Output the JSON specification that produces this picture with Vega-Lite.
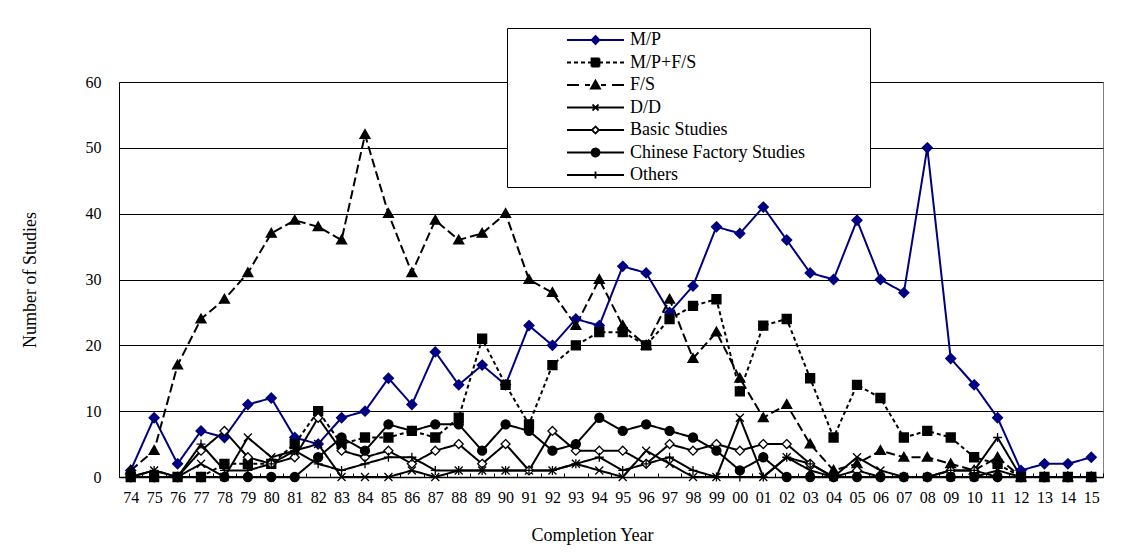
{
"$schema": "https://vega.github.io/schema/vega-lite/v6.json",
"width": 984, "height": 395,
"autosize": "none",
"padding": {"left": 119, "top": 82, "right": 23, "bottom": 78},
"background": "white",
"config": {
 "font": "Liberation Serif",
 "view": {"stroke": "#808080", "strokeWidth": 1},
 "axis": {"labelFont": "Liberation Serif", "titleFont": "Liberation Serif", "labelColor": "black", "titleColor": "black", "titleFontWeight": "normal", "labelFontSize": 16, "titleFontSize": 18}
},
"data": {"values": [
{"year":"74","series":"M/P","value":1},{"year":"75","series":"M/P","value":9},{"year":"76","series":"M/P","value":2},{"year":"77","series":"M/P","value":7},{"year":"78","series":"M/P","value":6},{"year":"79","series":"M/P","value":11},{"year":"80","series":"M/P","value":12},{"year":"81","series":"M/P","value":6},{"year":"82","series":"M/P","value":5},{"year":"83","series":"M/P","value":9},{"year":"84","series":"M/P","value":10},{"year":"85","series":"M/P","value":15},{"year":"86","series":"M/P","value":11},{"year":"87","series":"M/P","value":19},{"year":"88","series":"M/P","value":14},{"year":"89","series":"M/P","value":17},{"year":"90","series":"M/P","value":14},{"year":"91","series":"M/P","value":23},{"year":"92","series":"M/P","value":20},{"year":"93","series":"M/P","value":24},{"year":"94","series":"M/P","value":23},{"year":"95","series":"M/P","value":32},{"year":"96","series":"M/P","value":31},{"year":"97","series":"M/P","value":25},{"year":"98","series":"M/P","value":29},{"year":"99","series":"M/P","value":38},{"year":"00","series":"M/P","value":37},{"year":"01","series":"M/P","value":41},{"year":"02","series":"M/P","value":36},{"year":"03","series":"M/P","value":31},{"year":"04","series":"M/P","value":30},{"year":"05","series":"M/P","value":39},{"year":"06","series":"M/P","value":30},{"year":"07","series":"M/P","value":28},{"year":"08","series":"M/P","value":50},{"year":"09","series":"M/P","value":18},{"year":"10","series":"M/P","value":14},{"year":"11","series":"M/P","value":9},{"year":"12","series":"M/P","value":1},{"year":"13","series":"M/P","value":2},{"year":"14","series":"M/P","value":2},{"year":"15","series":"M/P","value":3},
{"year":"74","series":"M/P+F/S","value":0},{"year":"75","series":"M/P+F/S","value":0},{"year":"76","series":"M/P+F/S","value":0},{"year":"77","series":"M/P+F/S","value":0},{"year":"78","series":"M/P+F/S","value":2},{"year":"79","series":"M/P+F/S","value":2},{"year":"80","series":"M/P+F/S","value":2},{"year":"81","series":"M/P+F/S","value":5},{"year":"82","series":"M/P+F/S","value":10},{"year":"83","series":"M/P+F/S","value":5},{"year":"84","series":"M/P+F/S","value":6},{"year":"85","series":"M/P+F/S","value":6},{"year":"86","series":"M/P+F/S","value":7},{"year":"87","series":"M/P+F/S","value":6},{"year":"88","series":"M/P+F/S","value":9},{"year":"89","series":"M/P+F/S","value":21},{"year":"90","series":"M/P+F/S","value":14},{"year":"91","series":"M/P+F/S","value":8},{"year":"92","series":"M/P+F/S","value":17},{"year":"93","series":"M/P+F/S","value":20},{"year":"94","series":"M/P+F/S","value":22},{"year":"95","series":"M/P+F/S","value":22},{"year":"96","series":"M/P+F/S","value":20},{"year":"97","series":"M/P+F/S","value":24},{"year":"98","series":"M/P+F/S","value":26},{"year":"99","series":"M/P+F/S","value":27},{"year":"00","series":"M/P+F/S","value":13},{"year":"01","series":"M/P+F/S","value":23},{"year":"02","series":"M/P+F/S","value":24},{"year":"03","series":"M/P+F/S","value":15},{"year":"04","series":"M/P+F/S","value":6},{"year":"05","series":"M/P+F/S","value":14},{"year":"06","series":"M/P+F/S","value":12},{"year":"07","series":"M/P+F/S","value":6},{"year":"08","series":"M/P+F/S","value":7},{"year":"09","series":"M/P+F/S","value":6},{"year":"10","series":"M/P+F/S","value":3},{"year":"11","series":"M/P+F/S","value":2},{"year":"12","series":"M/P+F/S","value":0},{"year":"13","series":"M/P+F/S","value":0},{"year":"14","series":"M/P+F/S","value":0},{"year":"15","series":"M/P+F/S","value":0},
{"year":"74","series":"F/S","value":1},{"year":"75","series":"F/S","value":4},{"year":"76","series":"F/S","value":17},{"year":"77","series":"F/S","value":24},{"year":"78","series":"F/S","value":27},{"year":"79","series":"F/S","value":31},{"year":"80","series":"F/S","value":37},{"year":"81","series":"F/S","value":39},{"year":"82","series":"F/S","value":38},{"year":"83","series":"F/S","value":36},{"year":"84","series":"F/S","value":52},{"year":"85","series":"F/S","value":40},{"year":"86","series":"F/S","value":31},{"year":"87","series":"F/S","value":39},{"year":"88","series":"F/S","value":36},{"year":"89","series":"F/S","value":37},{"year":"90","series":"F/S","value":40},{"year":"91","series":"F/S","value":30},{"year":"92","series":"F/S","value":28},{"year":"93","series":"F/S","value":23},{"year":"94","series":"F/S","value":30},{"year":"95","series":"F/S","value":23},{"year":"96","series":"F/S","value":20},{"year":"97","series":"F/S","value":27},{"year":"98","series":"F/S","value":18},{"year":"99","series":"F/S","value":22},{"year":"00","series":"F/S","value":15},{"year":"01","series":"F/S","value":9},{"year":"02","series":"F/S","value":11},{"year":"03","series":"F/S","value":5},{"year":"04","series":"F/S","value":1},{"year":"05","series":"F/S","value":2},{"year":"06","series":"F/S","value":4},{"year":"07","series":"F/S","value":3},{"year":"08","series":"F/S","value":3},{"year":"09","series":"F/S","value":2},{"year":"10","series":"F/S","value":1},{"year":"11","series":"F/S","value":3},{"year":"12","series":"F/S","value":0},{"year":"13","series":"F/S","value":0},{"year":"14","series":"F/S","value":0},{"year":"15","series":"F/S","value":0},
{"year":"74","series":"D/D","value":0},{"year":"75","series":"D/D","value":1},{"year":"76","series":"D/D","value":0},{"year":"77","series":"D/D","value":2},{"year":"78","series":"D/D","value":0},{"year":"79","series":"D/D","value":6},{"year":"80","series":"D/D","value":3},{"year":"81","series":"D/D","value":4},{"year":"82","series":"D/D","value":5},{"year":"83","series":"D/D","value":0},{"year":"84","series":"D/D","value":0},{"year":"85","series":"D/D","value":0},{"year":"86","series":"D/D","value":1},{"year":"87","series":"D/D","value":0},{"year":"88","series":"D/D","value":1},{"year":"89","series":"D/D","value":1},{"year":"90","series":"D/D","value":1},{"year":"91","series":"D/D","value":1},{"year":"92","series":"D/D","value":1},{"year":"93","series":"D/D","value":2},{"year":"94","series":"D/D","value":1},{"year":"95","series":"D/D","value":0},{"year":"96","series":"D/D","value":4},{"year":"97","series":"D/D","value":2},{"year":"98","series":"D/D","value":0},{"year":"99","series":"D/D","value":0},{"year":"00","series":"D/D","value":9},{"year":"01","series":"D/D","value":0},{"year":"02","series":"D/D","value":3},{"year":"03","series":"D/D","value":1},{"year":"04","series":"D/D","value":0},{"year":"05","series":"D/D","value":3},{"year":"06","series":"D/D","value":1},{"year":"07","series":"D/D","value":0},{"year":"08","series":"D/D","value":0},{"year":"09","series":"D/D","value":0},{"year":"10","series":"D/D","value":0},{"year":"11","series":"D/D","value":1},{"year":"12","series":"D/D","value":0},{"year":"13","series":"D/D","value":0},{"year":"14","series":"D/D","value":0},{"year":"15","series":"D/D","value":0},
{"year":"74","series":"Basic Studies","value":0},{"year":"75","series":"Basic Studies","value":0},{"year":"76","series":"Basic Studies","value":0},{"year":"77","series":"Basic Studies","value":4},{"year":"78","series":"Basic Studies","value":7},{"year":"79","series":"Basic Studies","value":3},{"year":"80","series":"Basic Studies","value":2},{"year":"81","series":"Basic Studies","value":3},{"year":"82","series":"Basic Studies","value":9},{"year":"83","series":"Basic Studies","value":4},{"year":"84","series":"Basic Studies","value":3},{"year":"85","series":"Basic Studies","value":4},{"year":"86","series":"Basic Studies","value":2},{"year":"87","series":"Basic Studies","value":4},{"year":"88","series":"Basic Studies","value":5},{"year":"89","series":"Basic Studies","value":2},{"year":"90","series":"Basic Studies","value":5},{"year":"91","series":"Basic Studies","value":1},{"year":"92","series":"Basic Studies","value":7},{"year":"93","series":"Basic Studies","value":4},{"year":"94","series":"Basic Studies","value":4},{"year":"95","series":"Basic Studies","value":4},{"year":"96","series":"Basic Studies","value":2},{"year":"97","series":"Basic Studies","value":5},{"year":"98","series":"Basic Studies","value":4},{"year":"99","series":"Basic Studies","value":5},{"year":"00","series":"Basic Studies","value":4},{"year":"01","series":"Basic Studies","value":5},{"year":"02","series":"Basic Studies","value":5},{"year":"03","series":"Basic Studies","value":2},{"year":"04","series":"Basic Studies","value":0},{"year":"05","series":"Basic Studies","value":1},{"year":"06","series":"Basic Studies","value":0},{"year":"07","series":"Basic Studies","value":0},{"year":"08","series":"Basic Studies","value":0},{"year":"09","series":"Basic Studies","value":1},{"year":"10","series":"Basic Studies","value":1},{"year":"11","series":"Basic Studies","value":0},{"year":"12","series":"Basic Studies","value":0},{"year":"13","series":"Basic Studies","value":0},{"year":"14","series":"Basic Studies","value":0},{"year":"15","series":"Basic Studies","value":0},
{"year":"74","series":"Chinese Factory Studies","value":0},{"year":"75","series":"Chinese Factory Studies","value":0},{"year":"76","series":"Chinese Factory Studies","value":0},{"year":"77","series":"Chinese Factory Studies","value":0},{"year":"78","series":"Chinese Factory Studies","value":0},{"year":"79","series":"Chinese Factory Studies","value":0},{"year":"80","series":"Chinese Factory Studies","value":0},{"year":"81","series":"Chinese Factory Studies","value":0},{"year":"82","series":"Chinese Factory Studies","value":3},{"year":"83","series":"Chinese Factory Studies","value":6},{"year":"84","series":"Chinese Factory Studies","value":4},{"year":"85","series":"Chinese Factory Studies","value":8},{"year":"86","series":"Chinese Factory Studies","value":7},{"year":"87","series":"Chinese Factory Studies","value":8},{"year":"88","series":"Chinese Factory Studies","value":8},{"year":"89","series":"Chinese Factory Studies","value":4},{"year":"90","series":"Chinese Factory Studies","value":8},{"year":"91","series":"Chinese Factory Studies","value":7},{"year":"92","series":"Chinese Factory Studies","value":4},{"year":"93","series":"Chinese Factory Studies","value":5},{"year":"94","series":"Chinese Factory Studies","value":9},{"year":"95","series":"Chinese Factory Studies","value":7},{"year":"96","series":"Chinese Factory Studies","value":8},{"year":"97","series":"Chinese Factory Studies","value":7},{"year":"98","series":"Chinese Factory Studies","value":6},{"year":"99","series":"Chinese Factory Studies","value":4},{"year":"00","series":"Chinese Factory Studies","value":1},{"year":"01","series":"Chinese Factory Studies","value":3},{"year":"02","series":"Chinese Factory Studies","value":0},{"year":"03","series":"Chinese Factory Studies","value":0},{"year":"04","series":"Chinese Factory Studies","value":0},{"year":"05","series":"Chinese Factory Studies","value":0},{"year":"06","series":"Chinese Factory Studies","value":0},{"year":"07","series":"Chinese Factory Studies","value":0},{"year":"08","series":"Chinese Factory Studies","value":0},{"year":"09","series":"Chinese Factory Studies","value":0},{"year":"10","series":"Chinese Factory Studies","value":0},{"year":"11","series":"Chinese Factory Studies","value":0},{"year":"12","series":"Chinese Factory Studies","value":0},{"year":"13","series":"Chinese Factory Studies","value":0},{"year":"14","series":"Chinese Factory Studies","value":0},{"year":"15","series":"Chinese Factory Studies","value":0},
{"year":"74","series":"Others","value":0},{"year":"75","series":"Others","value":1},{"year":"76","series":"Others","value":0},{"year":"77","series":"Others","value":5},{"year":"78","series":"Others","value":1},{"year":"79","series":"Others","value":1},{"year":"80","series":"Others","value":2},{"year":"81","series":"Others","value":4},{"year":"82","series":"Others","value":2},{"year":"83","series":"Others","value":1},{"year":"84","series":"Others","value":2},{"year":"85","series":"Others","value":3},{"year":"86","series":"Others","value":3},{"year":"87","series":"Others","value":1},{"year":"88","series":"Others","value":1},{"year":"89","series":"Others","value":1},{"year":"90","series":"Others","value":1},{"year":"91","series":"Others","value":1},{"year":"92","series":"Others","value":1},{"year":"93","series":"Others","value":2},{"year":"94","series":"Others","value":3},{"year":"95","series":"Others","value":1},{"year":"96","series":"Others","value":2},{"year":"97","series":"Others","value":3},{"year":"98","series":"Others","value":1},{"year":"99","series":"Others","value":0},{"year":"00","series":"Others","value":0},{"year":"01","series":"Others","value":0},{"year":"02","series":"Others","value":3},{"year":"03","series":"Others","value":2},{"year":"04","series":"Others","value":0},{"year":"05","series":"Others","value":0},{"year":"06","series":"Others","value":0},{"year":"07","series":"Others","value":0},{"year":"08","series":"Others","value":0},{"year":"09","series":"Others","value":1},{"year":"10","series":"Others","value":1},{"year":"11","series":"Others","value":6},{"year":"12","series":"Others","value":0},{"year":"13","series":"Others","value":0},{"year":"14","series":"Others","value":0},{"year":"15","series":"Others","value":0}
]},
"encoding": {
 "x": {"field": "year", "type": "ordinal",
  "scale": {"type": "band", "paddingInner": 0, "paddingOuter": 0,
   "domain": ["74","75","76","77","78","79","80","81","82","83","84","85","86","87","88","89","90","91","92","93","94","95","96","97","98","99","00","01","02","03","04","05","06","07","08","09","10","11","12","13","14","15"]},
  "axis": {"title": "Completion Year", "labelAngle": 0, "tickBand": "extent", "tickSize": -4, "tickColor": "black", "tickWidth": 1, "labelPadding": 16, "domainColor": "black", "domainWidth": 1.5, "grid": false, "titlePadding": 21, "titleX": 473}},
 "y": {"field": "value", "type": "quantitative",
  "scale": {"domain": [0, 60]},
  "axis": {"title": "Number of Studies", "values": [0,10,20,30,40,50,60], "grid": true, "gridColor": "black", "gridWidth": 1, "ticks": false, "labelPadding": 18, "domainColor": "black", "domainWidth": 1, "titlePadding": 46}}
},
"layer": [
 {"mark": {"type": "line", "strokeWidth": 2},
  "encoding": {
   "stroke": {"field": "series", "type": "nominal",
    "scale": {"domain": ["M/P","M/P+F/S","F/S","D/D","Basic Studies","Chinese Factory Studies","Others"], "range": ["#000080","black","black","black","black","black","black"]},
    "legend": {"orient": "none", "legendX": 388, "legendY": -54, "title": null,
     "strokeColor": "black", "fillColor": "white", "padding": 3,
     "labelFont": "Liberation Serif", "labelFontSize": 18, "labelColor": "black", "labelLimit": 0,
     "symbolSize": 100, "symbolStrokeWidth": 1.8, "symbolOffset": 76.5, "labelOffset": 25.5, "rowPadding": 4.5,
     "encoding": {"symbols": {
      "shape": {"value": {"expr": "{'M/P': 'M-5.7,0L5.7,0M0,-0.8L0.8,0L0,0.8L-0.8,0ZM53.5,0', 'M/P+F/S': 'M-5.7,0L-4.9,0M-4.3,0L-3.5,0M-2.9,0L-2.1,0M-1.5,0L-0.8,0M0.8,0L1.5,0M2.1,0L2.9,0M3.5,0L4.3,0M4.9,0L5.7,0M-0.8,-0.8L0.8,-0.8L0.8,0.8L-0.8,0.8Z', 'F/S': 'M-5.7,0L-3.3,0M-2.1,0L-1.1,0M1.1,0L2.1,0M3.3,0L5.7,0M0,-0.9L0.9,0.7L-0.9,0.7Z', 'D/D': 'M-5.7,0L5.7,0M-0.6,-0.6L0.6,0.6M-0.6,0.6L0.6,-0.6', 'Basic Studies': 'M-5.7,0L-0.7,0M0.7,0L5.7,0M0,-0.7L0.7,0L0,0.7L-0.7,0Z', 'Chinese Factory Studies': 'M-5.7,0L5.7,0M-0.8,0A0.8,0.8,0,1,0,0.8,0A0.8,0.8,0,1,0,-0.8,0Z', 'Others': 'M-5.7,0L5.7,0M0,-0.7L0,0.7'}[datum.value]"}},
      "fill": {"value": {"expr": "{'M/P': '#000080', 'M/P+F/S': 'black', 'F/S': 'black', 'D/D': 'transparent', 'Basic Studies': 'white', 'Chinese Factory Studies': 'black', 'Others': 'transparent'}[datum.value]"}},
      "stroke": {"value": {"expr": "datum.value == 'M/P' ? '#000080' : 'black'"}},
      "strokeDash": {"value": [1, 0]},
      "strokeWidth": {"value": 1.8},
      "size": {"value": 100},
      "opacity": {"value": 1}
     }}
    }},
   "strokeDash": {"field": "series", "type": "nominal",
    "scale": {"range": [[1,0],[1,0],[1,0],[9,4],[1,0],[4,3],[1,0]]},
    "legend": null}
  }},
 {"mark": {"type": "point", "size": 100, "strokeWidth": 1.3, "opacity": 1},
  "encoding": {
   "shape": {"field": "series", "type": "nominal",
    "scale": {"range": ["M0,-0.9L0.9,0L0,0.9L-0.9,0Z", "M-0.9,0A0.9,0.9,0,1,0,0.9,0A0.9,0.9,0,1,0,-0.9,0Z", "M-0.8,-0.8L0.8,0.8M-0.8,0.8L0.8,-0.8", "M0,-1L1,0.75L-1,0.75Z", "M0,-1L1,0L0,1L-1,0Z", "M-0.9,-0.9L0.9,-0.9L0.9,0.9L-0.9,0.9Z", "M0,-0.9L0,0.9M-0.9,0L0.9,0"]},
    "legend": null},
   "fill": {"field": "series", "type": "nominal",
    "scale": {"range": ["white","black","transparent","black","#000080","black","transparent"]},
    "legend": null},
   "stroke": {"condition": {"test": "datum.series == 'M/P'", "value": "#000080"}, "value": "black"}
  }}
]
}
